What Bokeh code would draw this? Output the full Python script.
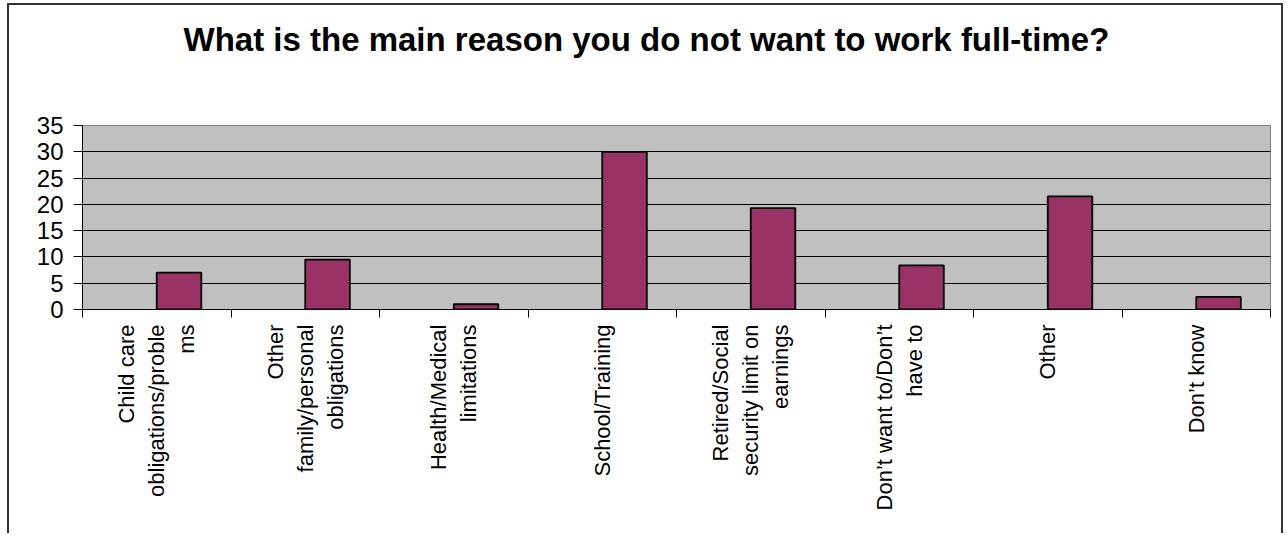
import numpy as np
from bokeh.plotting import figure
from bokeh.models import FixedTicker, ColumnDataSource, Range1d
from bokeh.embed import file_html
from bokeh.resources import INLINE

categories = [
    "Child care\nobligations/proble\nms",
    "Other\nfamily/personal\nobligations",
    "Health/Medical\nlimitations",
    "School/Training",
    "Retired/Social\nsecurity limit on\nearnings",
    "Don\u2019t want to/Don\u2019t\nhave to",
    "Other",
    "Don\u2019t know",
]
values = [7.0, 9.5, 1.0, 30.0, 19.3, 8.4, 21.5, 2.4]
y_ticks = [0, 5, 10, 15, 20, 25, 30, 35]

title_text = "What is the main reason you do not want to work full-time?"
FONT = "Liberation Sans"

n = len(categories)
idx = np.arange(n)
src = ColumnDataSource(dict(x=idx + 0.65, top=values))

p = figure(width=1276, height=530, output_backend="svg", toolbar_location=None,
           x_range=Range1d(0, n), y_range=Range1d(0, 35),
           min_border_left=73, min_border_right=15, min_border_top=120,
           min_border_bottom=226)
p.styles = {"border-top": "2px solid #333333", "border-left": "2px solid #333333",
            "border-right": "2px solid #333333",
            "margin-left": "7px", "margin-top": "3px"}

p.title.text = title_text
p.title.text_font = FONT
p.title.text_font_size = "33px"
p.title.text_font_style = "bold"
p.title.text_color = "black"
p.title.align = "left"
p.title.offset = 101
p.title.standoff = 10
p.title.padding = dict(left=0, right=0, top=0, bottom=63)

p.background_fill_color = "#C0C0C0"
p.border_fill_color = "white"
p.outline_line_color = "#808080"
p.outline_line_width = 1

p.vbar(x="x", top="top", width=0.3, source=src, fill_color="#993366",
       line_color="black", line_width=1.8)

# y axis
p.yaxis.ticker = FixedTicker(ticks=y_ticks)
p.yaxis.major_label_text_font = FONT
p.yaxis.major_label_text_font_size = "24px"
p.yaxis.major_label_text_color = "black"
p.yaxis.major_tick_out = 9
p.yaxis.major_tick_in = 0
p.yaxis.minor_tick_line_color = None
p.yaxis.axis_line_color = "black"
p.yaxis.major_tick_line_color = "black"
p.yaxis.major_label_standoff = 10

p.ygrid.grid_line_color = "black"
p.ygrid.grid_line_width = 1
p.xgrid.grid_line_color = None

# x axis: labels at centers, tick marks at boundaries
p.xaxis.ticker = FixedTicker(ticks=list(idx + 0.5), minor_ticks=list(range(n + 1)))
p.xaxis.major_label_overrides = {float(i + 0.5): c for i, c in enumerate(categories)}
p.xaxis.major_label_orientation = np.pi / 2
p.xaxis.major_label_text_font = FONT
p.xaxis.major_label_text_font_size = "22px"
p.xaxis.major_label_text_color = "black"
p.xaxis.major_label_text_line_height = 1.2
p.xaxis.major_tick_line_color = None
p.xaxis.major_tick_out = 0
p.xaxis.major_tick_in = 0
p.xaxis.minor_tick_line_color = "black"
p.xaxis.minor_tick_out = 8
p.xaxis.minor_tick_in = 0
p.xaxis.axis_line_color = "black"
p.xaxis.major_label_standoff = 7

open("out.html", "w").write(file_html(p, INLINE))
